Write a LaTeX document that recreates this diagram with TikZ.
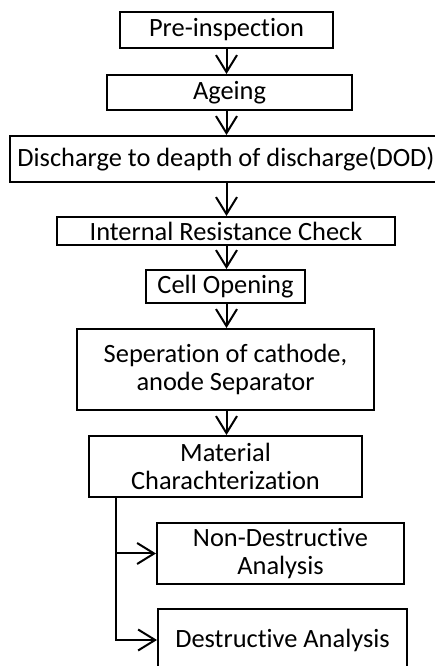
\documentclass[tikz,border=0pt]{standalone}
\usepackage{fontspec}
\setmainfont{Carlito}[Ligatures=NoCommon]
\usetikzlibrary{arrows.meta}

\begin{document}
\begin{tikzpicture}[x=1pt,y=1pt,
  box/.style={draw,line width=2pt,inner sep=0pt,align=center,font=\fontsize{26.4}{27.5}\selectfont},
  flow/.style={line width=2pt,-{Straight Barb[length=17pt,width=21pt]}}]
\useasboundingbox (0,0) rectangle (434,666);
\node[box,minimum width=213pt,minimum height=36pt] (pre) at (226.5,636) {Pre-inspection};
\node[box,minimum width=245pt,minimum height=35pt] (age) at (229.5,573.5) {Ageing};
\node[box,minimum width=432pt,minimum height=46pt] (dod) at (226,507) {Discharge to deapth of discharge(DOD)};
\node[box,minimum width=338pt,minimum height=28pt] (irc) at (226,435) {Internal Resistance Check};
\node[box,minimum width=159pt,minimum height=33pt] (cell) at (225.5,379.5) {Cell Opening};
\node[box,minimum width=297pt,minimum height=81pt] (sep) at (225.5,296.5) {Seperation of cathode,\\anode Separator};
\node[box,minimum width=273pt,minimum height=61pt] (mat) at (225.5,199.5) {Material\\Charachterization};
\node[box,minimum width=247pt,minimum height=61pt] (nda) at (280.5,112.5) {Non-Destructive\\Analysis};
\node[box,minimum width=249pt,minimum height=62pt] (da) at (282.5,26) {Destructive Analysis};
%main chain
\draw[flow] (pre.south) -- (pre.south |- age.north);
\draw[flow] (pre.south |- age.south) -- (pre.south |- dod.north);
\draw[flow] (pre.south |- dod.south) -- (pre.south |- irc.north);
\draw[flow] (pre.south |- irc.south) -- (pre.south |- cell.north);
\draw[flow] (pre.south |- cell.south) -- (pre.south |- sep.north);
\draw[flow] (pre.south |- sep.south) -- (pre.south |- mat.north);
%branches
\coordinate (split) at ([xshift=28pt]mat.south west);
\draw[flow] (split) |- (nda.west);
\draw[flow] (split) |- (da.west);
\end{tikzpicture}
\end{document}
